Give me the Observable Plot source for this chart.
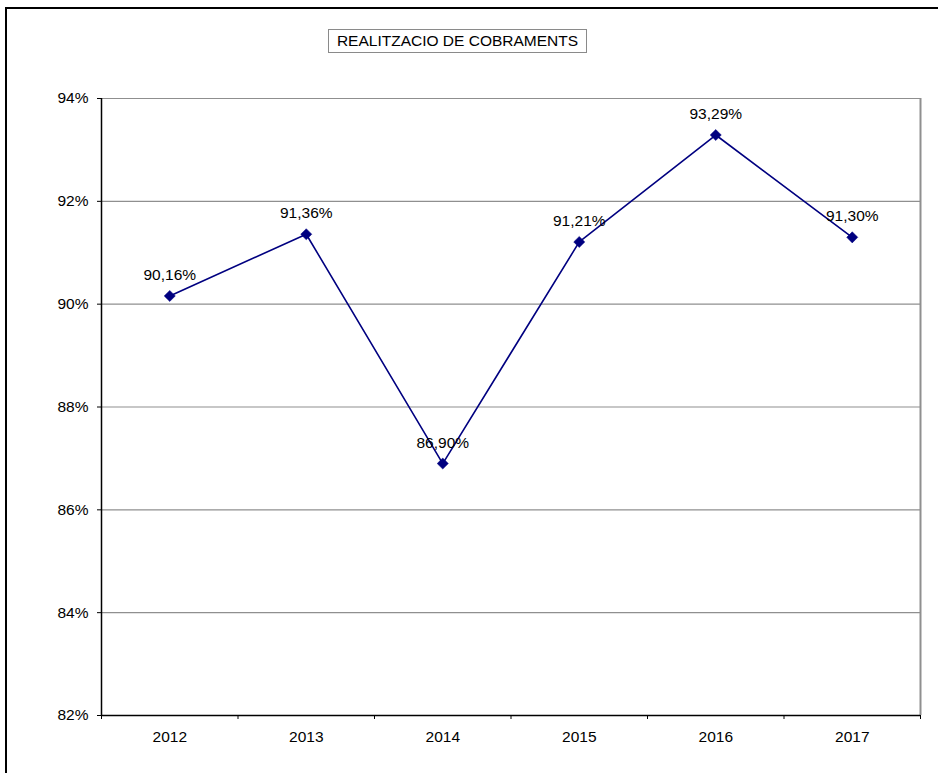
<!DOCTYPE html>
<html>
<head>
<meta charset="utf-8">
<script src="https://cdn.jsdelivr.net/npm/d3@7"></script>
<script src="https://cdn.jsdelivr.net/npm/@observablehq/plot@0.6"></script>
<style>
  html, body { margin: 0; padding: 0; background: #fff; }
  #wrap { position: relative; width: 938px; height: 773px; overflow: hidden; font-family: "Liberation Sans", Arial, sans-serif; }
  #frame { position: absolute; left: 5px; top: 7px; width: 940px; height: 780px; border-left: 2px solid #000; border-top: 2px solid #000; box-sizing: border-box; }
  #title { position: absolute; left: 328px; top: 29px; width: 259px; height: 24px; border: 1px solid #8a8a8a; box-sizing: border-box; font-size: 15.5px; line-height: 22px; text-align: center; color: #000; background: #fff; }
  #chart { position: absolute; left: 0; top: 0; }
  #chart svg text { font-size: 15.5px !important; font-variant: normal !important; }
</style>
</head>
<body>
<div id="wrap">
  <div id="chart"></div>
  <div id="frame"></div>
  <div id="title">REALITZACIO DE COBRAMENTS</div>
</div>
<script>
const years = [2012, 2013, 2014, 2015, 2016, 2017];
const values = [90.16, 91.36, 86.90, 91.21, 93.29, 91.30];
const yTicks = [82, 84, 86, 88, 90, 92, 94];
const gridTicks = [84, 86, 88, 90, 92, 94];
const boundaries = [2011.5, 2012.5, 2013.5, 2014.5, 2015.5, 2016.5, 2017.5];

const data = years.map((y, i) => ({year: y, value: values[i]}));
const fmt = v => v.toFixed(2).replace(".", ",") + "%";

const chart = Plot.plot({
  width: 938,
  height: 773,
  marginLeft: 101,
  marginRight: 18,
  marginTop: 98,
  marginBottom: 58,
  style: {fontFamily: "'Liberation Sans', Arial, sans-serif", fontSize: "15.5px", color: "#000", background: "transparent"},
  x: {type: "linear", domain: [2011.5, 2017.5]},
  y: {domain: [82, 94]},
  marks: [
    Plot.ruleY(gridTicks, {stroke: "#8f8f8f", strokeWidth: 1.2}),
    Plot.ruleX([2017.5], {stroke: "#8f8f8f", strokeWidth: 2}),
    Plot.ruleX([2011.5], {stroke: "#000", strokeWidth: 1.5}),
    Plot.ruleY([82], {stroke: "#000", strokeWidth: 1.5}),
    Plot.axisY({ticks: yTicks, tickFormat: d => d + "%", tickSize: 4, tickPadding: 9, label: null, fontSize: 15.5, stroke: "#000"}),
    Plot.axisX({ticks: boundaries, tickFormat: () => "", tickSize: 4, label: null}),
    Plot.axisX({ticks: years, tickFormat: d => String(d), tickSize: 0, tickPadding: 15, label: null, fontSize: 15.5}),
    Plot.line(data, {x: "year", y: "value", stroke: "#000080", strokeWidth: 1.6}),
    Plot.dot(data, {x: "year", y: "value", symbol: "diamond2", r: 5, fill: "#000080", stroke: "#000080", strokeWidth: 0.5}),
    Plot.text(data, {x: "year", y: "value", text: d => fmt(d.value), dy: -21, fill: "#000", fontSize: 15.5})
  ]
});
document.getElementById("chart").appendChild(chart);
</script>
</body>
</html>
